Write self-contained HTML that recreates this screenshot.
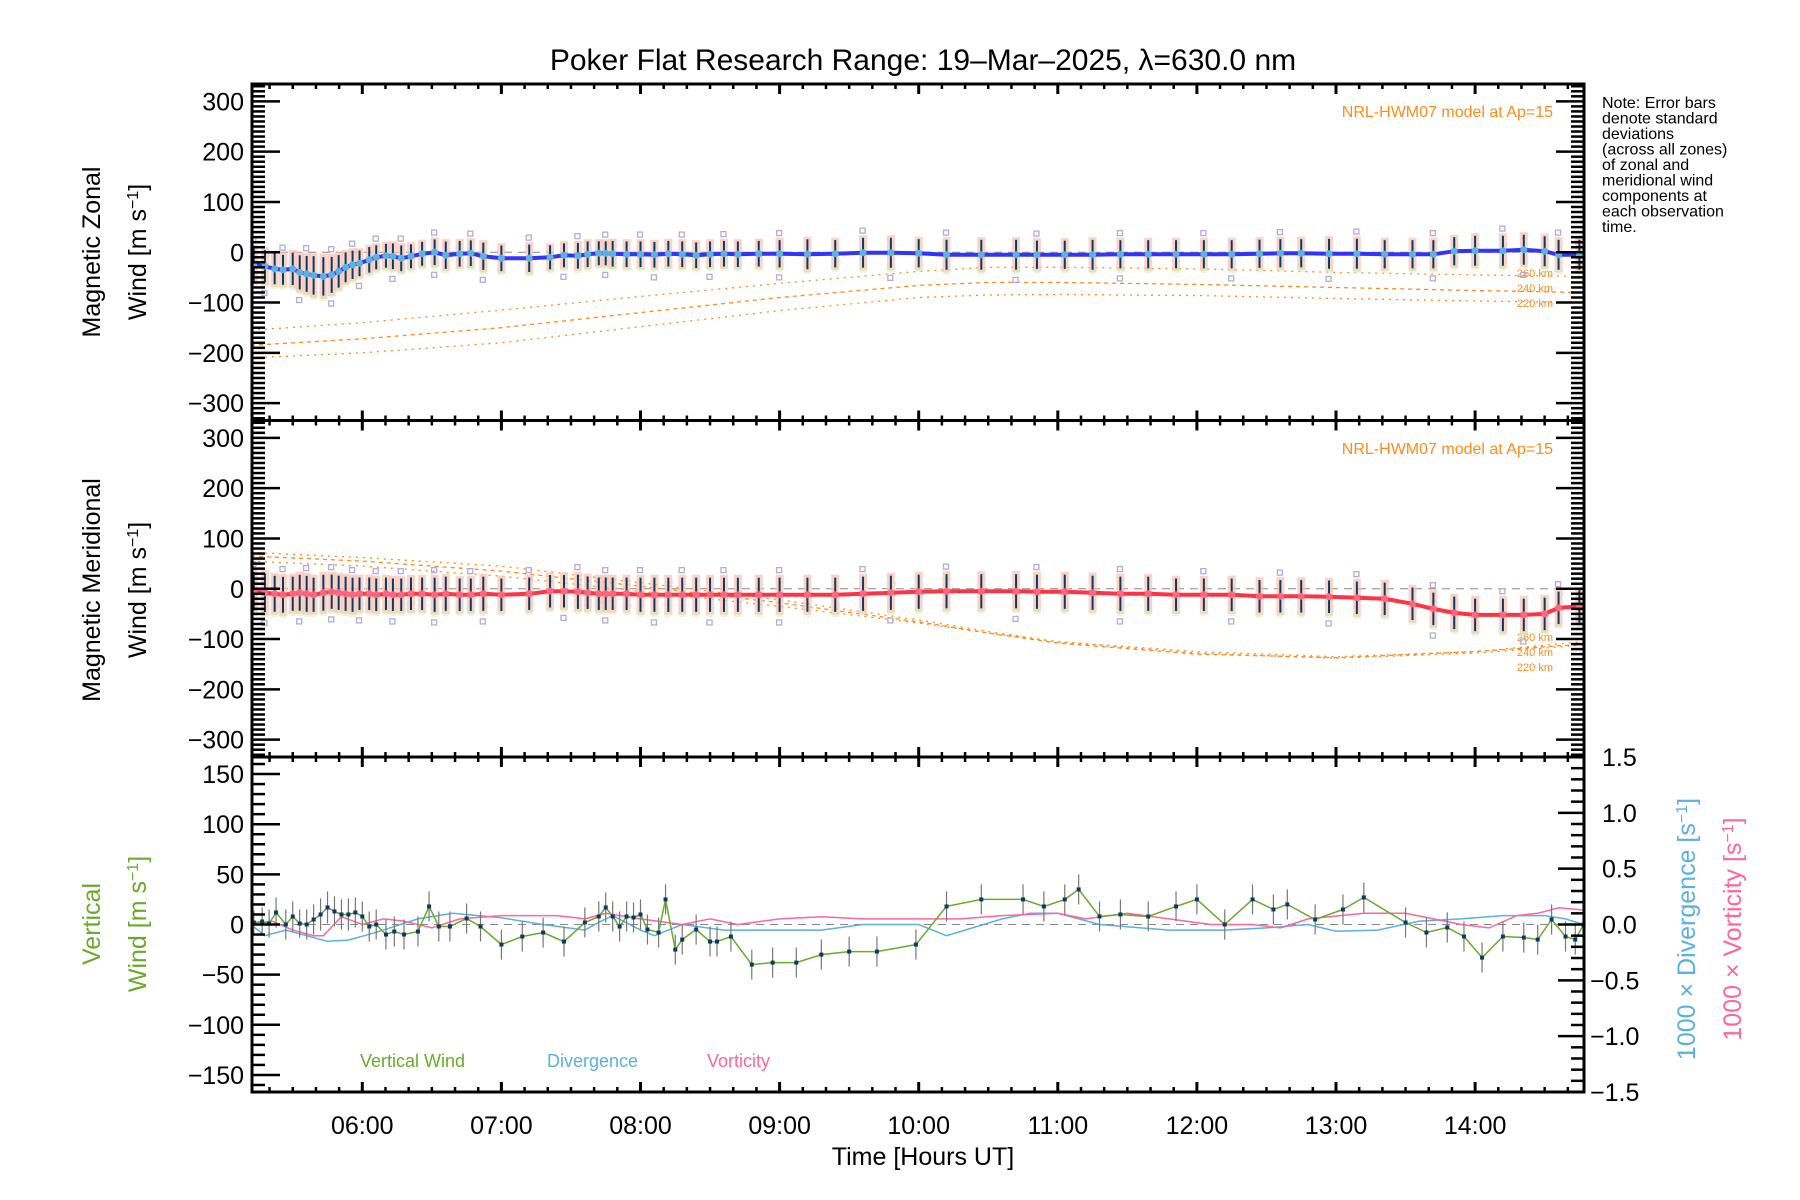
<!DOCTYPE html>
<html><head><meta charset="utf-8"><style>
html,body{margin:0;padding:0;background:#fff}
svg{display:block}
text{font-family:"Liberation Sans",sans-serif}
</style></head><body>
<svg id="chart" width="1800" height="1200" viewBox="0 0 1800 1200" xmlns="http://www.w3.org/2000/svg">
<text x="923" y="70" font-size="30" text-anchor="middle">Poker Flat Research Range: 19–Mar–2025, λ=630.0 nm</text>
<g font-size="16">
<text x="1602" y="108">Note: Error bars</text>
<text x="1602" y="123.5">denote standard</text>
<text x="1602" y="139">deviations</text>
<text x="1602" y="154.5">(across all zones)</text>
<text x="1602" y="170">of zonal and</text>
<text x="1602" y="185.5">meridional wind</text>
<text x="1602" y="201">components at</text>
<text x="1602" y="216.5">each observation</text>
<text x="1602" y="232">time.</text>
</g>
<text font-size="25" text-anchor="middle" transform="translate(100,252) rotate(-90)">Magnetic Zonal</text>
<text font-size="25" text-anchor="middle" transform="translate(146,252) rotate(-90)">Wind [m s<tspan baseline-shift="super" font-size="16">−1</tspan>]</text>
<text font-size="25" text-anchor="middle" transform="translate(100,590) rotate(-90)">Magnetic Meridional</text>
<text font-size="25" text-anchor="middle" transform="translate(146,590) rotate(-90)">Wind [m s<tspan baseline-shift="super" font-size="16">−1</tspan>]</text>
<text font-size="25" fill="#6aaa2a" text-anchor="middle" transform="translate(100,924) rotate(-90)">Vertical</text>
<text font-size="25" fill="#6aaa2a" text-anchor="middle" transform="translate(146,924) rotate(-90)">Wind [m s<tspan baseline-shift="super" font-size="16">−1</tspan>]</text>
<text font-size="25" fill="#5ab0e0" text-anchor="middle" transform="translate(1695,929) rotate(-90)">1000 × Divergence [s<tspan baseline-shift="super" font-size="16">−1</tspan>]</text>
<text font-size="25" fill="#ff6699" text-anchor="middle" transform="translate(1741,929) rotate(-90)">1000 × Vorticity [s<tspan baseline-shift="super" font-size="16">−1</tspan>]</text>
<text x="923" y="1165" font-size="25" text-anchor="middle">Time [Hours UT]</text>
<text x="360" y="1067" font-size="18" fill="#6aaa2a">Vertical Wind</text>
<text x="547" y="1067" font-size="18" fill="#5ab0e0">Divergence</text>
<text x="707" y="1067" font-size="18" fill="#ff6699">Vorticity</text>
<text x="1553" y="117" font-size="16" fill="#ff8c1a" text-anchor="end">NRL-HWM07 model at Ap=15</text>
<text x="1553" y="454" font-size="16" fill="#ff8c1a" text-anchor="end">NRL-HWM07 model at Ap=15</text>
<g font-size="11" fill="#ff8c1a" text-anchor="end">
<text x="1553" y="277">260 km</text><text x="1553" y="292">240 km</text><text x="1553" y="307">220 km</text></g>
<g font-size="11" fill="#ff8c1a" text-anchor="end">
<text x="1553" y="641">260 km</text><text x="1553" y="656">240 km</text><text x="1553" y="671">220 km</text></g>
<g id="marks"></g>
<g id="axes"></g>
</svg>
<script>
// ---- data ----
const obsTimes = [5.22,5.3,5.37,5.43,5.5,5.55,5.6,5.65,5.72,5.78,5.83,5.88,5.93,5.98,6.05,6.1,6.17,6.22,6.28,6.35,6.43,6.52,6.6,6.7,6.78,6.87,7.0,7.2,7.35,7.45,7.55,7.62,7.7,7.75,7.8,7.9,8.0,8.1,8.2,8.3,8.4,8.5,8.6,8.7,8.85,9.0,9.2,9.4,9.6,9.8,10.0,10.2,10.45,10.7,10.85,11.05,11.25,11.45,11.65,11.85,12.05,12.25,12.45,12.6,12.75,12.95,13.15,13.35,13.55,13.7,13.85,14.0,14.2,14.35,14.5,14.6,14.75];
const zonalWind = [-25,-28,-33,-35,-33,-40,-43,-46,-48,-45,-38,-30,-25,-22,-15,-10,-7,-8,-12,-8,-3,0,-6,-3,-2,-8,-12,-12,-10,-6,-7,-4,-2,-2,-3,-4,-4,-5,-3,-4,-6,-4,-3,-4,-3,-3,-4,-3,-1,-1,-2,-5,-5,-5,-5,-5,-5,-4,-4,-4,-4,-4,-3,-2,-2,-3,-3,-4,-4,-4,2,3,3,5,2,-5,-5];
const meridWind = [-5,-8,-10,-12,-10,-8,-10,-12,-8,-6,-8,-10,-12,-10,-10,-12,-10,-12,-12,-10,-10,-12,-10,-12,-12,-10,-12,-10,-5,-5,-6,-8,-10,-10,-10,-10,-12,-12,-12,-12,-12,-12,-12,-12,-12,-12,-12,-12,-10,-8,-6,-5,-5,-5,-6,-6,-8,-10,-10,-12,-12,-12,-15,-15,-15,-16,-18,-20,-30,-40,-48,-52,-52,-52,-50,-38,-35];
const errZonal = [40,38,36,35,38,40,42,45,45,42,38,35,33,30,30,28,28,30,30,28,28,30,32,30,30,32,30,32,28,28,30,30,28,28,30,30,30,30,30,30,30,30,30,30,30,32,35,32,35,35,33,35,35,35,33,33,35,33,33,33,33,33,33,33,33,35,35,33,33,33,33,35,35,35,35,35,35];
const errMerid = [45,45,42,42,40,42,42,40,42,40,40,40,40,38,38,38,38,38,38,38,38,40,40,38,38,40,38,38,38,38,40,38,38,38,38,38,40,40,40,40,40,40,40,40,40,40,40,40,40,40,40,40,40,40,40,40,40,40,40,38,38,38,38,38,38,38,38,38,38,38,38,38,38,38,38,38,38];
const modelTimes = [5.2,6,7,8,9,10,10.5,11,12,13,14,14.78];
const zonal260 = [-155,-140,-115,-88,-62,-38,-30,-30,-33,-40,-45,-48];
const zonal240 = [-185,-172,-150,-120,-90,-66,-60,-60,-64,-70,-76,-80];
const zonal220 = [-210,-200,-180,-148,-116,-90,-85,-84,-86,-92,-97,-100];
const merid260 = [55,45,25,-5,-35,-68,-88,-105,-125,-135,-125,-105];
const merid240 = [65,55,35,5,-28,-66,-88,-108,-130,-137,-125,-110];
const merid220 = [72,62,45,12,-22,-62,-85,-106,-128,-138,-128,-112];
const vertTimes = [5.22,5.28,5.33,5.38,5.45,5.5,5.55,5.6,5.65,5.7,5.75,5.8,5.85,5.9,5.95,6.0,6.05,6.1,6.17,6.23,6.3,6.4,6.48,6.55,6.63,6.75,6.85,7.0,7.15,7.3,7.45,7.6,7.7,7.75,7.8,7.85,7.9,7.95,8.0,8.05,8.13,8.18,8.25,8.3,8.4,8.5,8.55,8.65,8.8,8.95,9.12,9.3,9.5,9.7,9.98,10.2,10.45,10.75,10.9,11.05,11.15,11.3,11.45,11.65,11.85,12.0,12.2,12.4,12.55,12.65,12.85,13.05,13.2,13.5,13.65,13.8,13.92,14.05,14.2,14.35,14.45,14.55,14.65,14.72,14.78];
const vertWind = [2,3,1,12,0,8,1,0,5,10,17,13,10,10,12,8,-2,0,-10,-7,-10,-7,18,-2,-2,6,-2,-20,-12,-8,-17,2,8,17,8,-2,8,7,10,-5,-8,25,-25,-15,-5,-17,-17,-12,-40,-38,-38,-30,-27,-27,-20,18,25,25,18,25,35,8,10,8,18,25,0,25,15,20,5,15,27,2,-8,-3,-12,-33,-12,-13,-15,5,-12,-15,0];
const vertErr = [12,14,14,15,15,15,14,15,15,16,16,15,15,16,15,15,15,15,15,15,15,15,15,15,15,15,15,15,15,15,15,15,15,15,15,15,15,15,15,15,15,15,15,15,15,15,15,15,15,15,15,15,15,15,15,15,15,15,15,15,15,15,15,15,15,15,15,15,15,15,15,15,15,15,15,15,15,15,15,15,15,15,15,15,15];
const divTimes = [5.2,5.3,5.45,5.75,5.9,6.1,6.4,6.65,7.0,7.3,7.6,7.7,7.8,8.0,8.1,8.3,8.6,9.3,9.6,10.0,10.2,10.6,10.8,11.0,11.3,11.8,12.2,12.5,12.8,13.0,13.3,13.6,13.9,14.2,14.5,14.65,14.78];
const divergence = [0,-0.1,-0.05,-0.15,-0.14,-0.07,0.05,0.1,0.06,0.0,-0.05,0.02,0.08,-0.05,-0.1,0.0,-0.05,-0.05,0.0,0.0,-0.1,0.05,0.1,0.1,0.0,-0.05,-0.05,-0.03,0.0,-0.06,-0.05,0.03,0.05,0.08,0.08,0.05,0.0];
const vortTimes = [5.2,5.35,5.5,5.65,5.72,5.85,6.0,6.15,6.3,6.5,6.7,7.0,7.4,7.6,7.75,8.0,8.3,8.5,8.7,9.0,9.3,9.6,10.0,10.3,10.6,11.0,11.2,11.5,11.8,12.1,12.4,12.6,12.8,13.2,13.5,13.7,13.9,14.1,14.3,14.45,14.6,14.78];
const vorticity = [0,0.03,-0.05,-0.1,-0.1,0.07,0,0.05,0.03,-0.03,0.05,0.08,0.08,0.05,0.1,0.05,0.0,0.05,0.0,0.05,0.07,0.05,0.05,0.05,0.08,0.1,0.05,0.1,0.05,0.0,0.0,-0.03,0.05,0.1,0.1,0.05,0.0,-0.03,0.08,0.1,0.15,0.13];
const xTickHours = [6,7,8,9,10,11,12,13,14];
const xTickLabels = ["06:00","07:00","08:00","09:00","10:00","11:00","12:00","13:00","14:00"];
const windTicks = [300,200,100,0,-100,-200,-300];
const vertTicks = [150,100,50,0,-50,-100,-150];
const rightTicks = [1.5,1.0,0.5,0.0,-0.5,-1.0,-1.5];

// ---- scales ----
const L=252,R=1584;
const X = t => 362.3 + (t-6)*139.1;
const P = [{top:84,bot:420.5,max:334.5},{top:420.5,bot:757,max:334.5},{top:757,bot:1092,max:167}];
const Yp = (i,v) => { const p=P[i]; return (p.top+p.bot)/2 - v*(p.bot-p.top)/(2*p.max); };
const Yr = v => (757+1092)/2 - v*(1092-757)/3;

const NS="http://www.w3.org/2000/svg";
const marks=document.getElementById('marks'), axes=document.getElementById('axes');
function mk(parent, tag, attrs, name){
  const e=document.createElementNS(NS,tag);
  for(const k in attrs) e.setAttribute(k,attrs[k]);
  
  
  parent.appendChild(e); return e;
}
const pts = (ts,vs,f) => ts.map((t,i)=>X(t).toFixed(1)+','+f(vs[i]).toFixed(1)).join(' ');

[0,1,2].forEach(i=>mk(marks,'line',{x1:L,x2:R,y1:Yp(i,0),y2:Yp(i,0),stroke:'#888','stroke-dasharray':'8,6','stroke-width':1},'zero-line'));

const zm=[zonal260,zonal240,zonal220], mm=[merid260,merid240,merid220];
const dash=['2,5','4,4','2,5'];
zm.forEach((arr,k)=>mk(marks,'polyline',{points:pts(modelTimes,arr,v=>Yp(0,v)),fill:'none',stroke:'#ff8c1a','stroke-width':1.3,'stroke-dasharray':dash[k]},'zonal-model-curve'));
mm.forEach((arr,k)=>mk(marks,'polyline',{points:pts(modelTimes,arr,v=>Yp(1,v)),fill:'none',stroke:'#ff8c1a','stroke-width':1.3,'stroke-dasharray':dash[k]},'meridional-model-curve'));

function windPanel(i, vals, errs, lineColor, name){
  obsTimes.forEach((t,j)=>{
    const x=X(t), v=vals[j], e=errs[j];
    mk(marks,'rect',{x:x-4,y:Yp(i,v+e),width:8,height:Yp(i,v-e)-Yp(i,v+e),fill:'#fbc4b4',opacity:0.75},name+'-zone-spread');
    mk(marks,'rect',{x:x-3,y:Yp(i,v-e)-4,width:6,height:6,fill:'#d6ecb4',opacity:0.5},name+'-zone-low');
    if(j%3===0) mk(marks,'rect',{x:x-3,y:Yp(i,v+e+14),width:5,height:5,fill:'none',stroke:'#b0acde','stroke-width':1.3},name+'-zone-outlier');
    if(j%4===1) mk(marks,'rect',{x:x-3,y:Yp(i,v-e-10),width:5,height:5,fill:'none',stroke:'#b0acde','stroke-width':1.3},name+'-zone-outlier');
    mk(marks,'line',{x1:x,x2:x,y1:Yp(i,v+e*0.85),y2:Yp(i,v-e*0.85),stroke:'#0a3a66','stroke-width':2},name+'-error-bar');
  });
  mk(marks,'polyline',{points:pts(obsTimes,vals,v=>Yp(i,v)),fill:'none',stroke:lineColor,'stroke-width':4},name+'-line');
  obsTimes.forEach((t,j)=>mk(marks,'circle',{cx:X(t),cy:Yp(i,vals[j]),r:3.5,fill:i===0?'#5ab4e0':'#ff6680'},name+'-point'));
}
windPanel(0,zonalWind,errZonal,'#3333ff','zonal');
windPanel(1,meridWind,errMerid,'#ff3344','meridional');

mk(marks,'polyline',{points:pts(divTimes,divergence,Yr),fill:'none',stroke:'#5ab0e0','stroke-width':1.5},'divergence-line');
mk(marks,'polyline',{points:pts(vortTimes,vorticity,Yr),fill:'none',stroke:'#ff6699','stroke-width':1.5},'vorticity-line');
vertTimes.forEach((t,j)=>mk(marks,'line',{x1:X(t),x2:X(t),y1:Yp(2,vertWind[j]+vertErr[j]),y2:Yp(2,vertWind[j]-vertErr[j]),stroke:'#777','stroke-width':1.2},'vertical-wind-error-bar'));
mk(marks,'polyline',{points:pts(vertTimes,vertWind,v=>Yp(2,v)),fill:'none',stroke:'#6aaa2a','stroke-width':1.5},'vertical-wind-line');
vertTimes.forEach((t,j)=>mk(marks,'rect',{x:X(t)-2,y:Yp(2,vertWind[j])-2,width:4,height:4,fill:'#0a3a66'},'vertical-wind-point'));

P.forEach((p,i)=>{
  mk(axes,'rect',{x:L,y:p.top,width:R-L,height:p.bot-p.top,fill:'none',stroke:'#000','stroke-width':3},'panel-frame');
  for(let m=Math.ceil(5.207*6);m<=Math.floor(14.783*6);m++){
    const x=X(m/6), maj=(m%6===0), len=maj?10:5;
    mk(axes,'line',{x1:x,x2:x,y1:p.top,y2:p.top+len,stroke:'#000','stroke-width':maj?3:2.5},'x-tick');
    mk(axes,'line',{x1:x,x2:x,y1:p.bot,y2:p.bot-len,stroke:'#000','stroke-width':maj?3:2.5},'x-tick');
  }
  const lim=Math.floor(p.max/10)*10;
  for(let v=-lim; v<=lim; v+=10){
    const y=Yp(i,v), maj=(i<2? v%100===0 : v%50===0), len=maj?28:13;
    mk(axes,'line',{x1:L,x2:L+len,y1:y,y2:y,stroke:'#000','stroke-width':2.5},'y-tick');
    if(i<2) mk(axes,'line',{x1:R,x2:R-len,y1:y,y2:y,stroke:'#000','stroke-width':2.5},'y-tick-right');
  }
  const labs = i<2? windTicks: vertTicks;
  labs.forEach(v=>{
    const t=mk(axes,'text',{x:L-8,y:Yp(i,v)+9,'font-size':25,'text-anchor':'end'},'y-tick-label');
    t.textContent = v<0 ? '−'+(-v) : String(v);
  });
});
for(let k=-15;k<=15;k++){
  const y=Yr(k/10), maj=(k%5===0), len=maj?26:13;
  mk(axes,'line',{x1:R,x2:R-len,y1:y,y2:y,stroke:'#000','stroke-width':2.5},'right-y-tick');
}
rightTicks.forEach(v=>{
  const t=mk(axes,'text',{x:v<0?1590:1602,y:Yr(v)+9,'font-size':25},'right-tick-label');
  t.textContent = v<0 ? '−'+(-v).toFixed(1) : v.toFixed(1);
});
xTickHours.forEach((h,j)=>{
  const t=mk(axes,'text',{x:X(h),y:1134,'font-size':25,'text-anchor':'middle'},'x-tick-label');
  t.textContent = xTickLabels[j];
});
</script>
</body></html>
